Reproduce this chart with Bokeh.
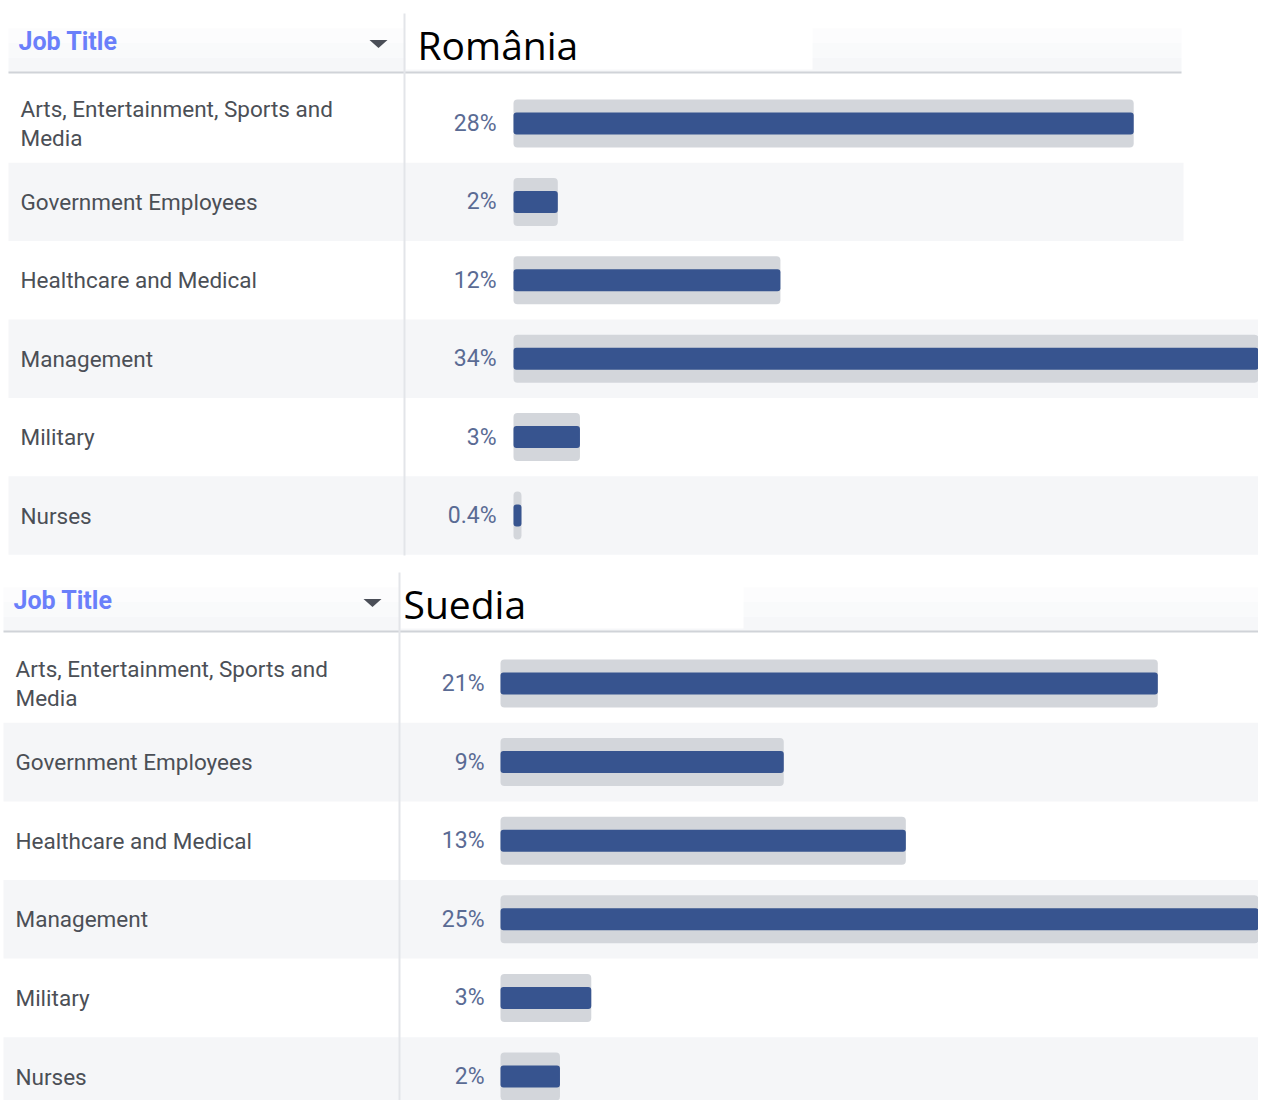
import textwrap
from bokeh.plotting import figure
from bokeh.models import Range1d
from bokeh.embed import file_html
from bokeh.resources import INLINE
from bokeh.core.properties import value

# ---------------- data ----------------
job_titles = ["Arts, Entertainment, Sports and Media", "Government Employees",
              "Healthcare and Medical", "Management", "Military", "Nurses"]
countries = ["România", "Suedia"]
header_label = "Job Title"
romania_values = [28.0, 2.0, 12.05, 34.0, 3.0, 0.36]
romania_labels = ["28%", "2%", "12%", "34%", "3%", "0.4%"]
suedia_values = [21.0, 9.05, 12.95, 25.0, 2.9, 1.9]
suedia_labels = ["21%", "9%", "13%", "25%", "3%", "2%"]

# ---------------- layout / style ----------------
W, H = 1258, 1100
FULL = 1266
BLUE = "#37548f"
TRACK = "#d3d6db"
SHADE = "#f5f6f8"
TEXT = "#4b4f56"
PCT = "#5a6b94"
HEAD_BLUE = "#6a7ffa"

panels = [
    dict(name="ro", title=countries[0], values=romania_values, labels=romania_labels,
         top=13, head_bot=72, left=8, head_right=1181, sep=404, bottom=555,
         text_x=20, pct_x=496, origin=513, ppp=22.15, c0=123, step=78.4,
         title_x=417, box=(405, 812), tri_x=378, shade_right=[FULL, 1183, FULL, FULL, FULL, FULL]),
    dict(name="se", title=countries[1], values=suedia_values, labels=suedia_labels,
         top=572, head_bot=631, left=3, head_right=FULL, sep=399, bottom=1108,
         text_x=15, pct_x=484, origin=500, ppp=31.3, c0=683, step=78.6,
         title_x=403, box=(400, 743), tri_x=372, shade_right=[FULL] * 6),
]

p = figure(width=W, height=H, x_range=Range1d(0, W), y_range=Range1d(H, 0),
           output_backend="svg", toolbar_location=None,
           x_axis_type=None, y_axis_type=None, min_border=0,
           outline_line_color=None, background_fill_color="white",
           border_fill_color="white")
p.grid.visible = False

for pn in panels:
    p.extra_x_ranges[pn["name"]] = Range1d(-pn["origin"] / pn["ppp"],
                                           (W - pn["origin"]) / pn["ppp"])

grad = ["#ffffff", "#fcfcfd", "#f9fafb", "#f6f7f9"]

for pn in panels:
    n = len(job_titles)
    centers = [pn["c0"] + i * pn["step"] for i in range(n)]
    half = pn["step"] / 2

    # header background (gradient approximation)
    t, b = pn["top"], pn["head_bot"]
    hstep = (b - t) / len(grad)
    p.quad(left=[pn["left"]] * len(grad), right=[pn["head_right"]] * len(grad),
           top=[t + k * hstep for k in range(len(grad))],
           bottom=[t + (k + 1) * hstep for k in range(len(grad))],
           fill_color=grad, line_color=None)
    p.quad(left=[pn["box"][0]], right=[pn["box"][1]], top=[t], bottom=[b - 3],
           fill_color="white", line_color=None)
    p.segment(x0=[pn["left"]], x1=[pn["head_right"]], y0=[b], y1=[b],
              line_color="#d0d3d8", line_width=2)

    # alternating row shading
    idx = [i for i in range(n) if i % 2 == 1]
    p.quad(left=[pn["left"]] * len(idx), right=[pn["shade_right"][i] for i in idx],
           top=[centers[i] - half for i in idx], bottom=[centers[i] + half for i in idx],
           fill_color=SHADE, line_color=None)

    # column separator
    p.segment(x0=[pn["sep"]], x1=[pn["sep"]], y0=[t], y1=[pn["bottom"]],
              line_color="#e3e5e9", line_width=2)

    # header texts
    hc = (t + b) / 2
    p.text(x=[pn["left"] + 10], y=[hc - 2], text=[header_label],
           text_font=value("Roboto"), text_font_style="bold", text_font_size="25px",
           text_color=HEAD_BLUE, text_baseline="middle", text_align="left")
    tx = pn["tri_x"]
    p.patch(x=[tx - 9, tx + 9, tx], y=[hc - 3, hc - 3, hc + 5],
            fill_color="#4a4e57", line_color=None)
    p.text(x=[pn["title_x"]], y=[hc + 1], text=[pn["title"]],
           text_font=value("Open Sans"), text_font_size="39px",
           text_color="#000000", text_baseline="middle", text_align="left")

    # row labels
    p.text(x=[pn["text_x"]] * n, y=centers,
           text=[textwrap.fill(s, 31) for s in job_titles],
           text_font=value("Roboto"), text_font_size="22.5px", text_color=TEXT,
           text_baseline="middle", text_align="left", text_line_height=1.14)

    # percentage labels
    p.text(x=[pn["pct_x"]] * n, y=centers, text=pn["labels"],
           text_font=value("Roboto"), text_font_size="23px", text_color=PCT,
           text_baseline="middle", text_align="right")

    # bars: track + value
    p.hbar(y=centers, left=0, right=pn["values"], height=48,
           x_range_name=pn["name"], fill_color=TRACK, line_color=None,
           border_radius=4)
    p.hbar(y=centers, left=0, right=pn["values"], height=22,
           x_range_name=pn["name"], fill_color=BLUE, line_color=None,
           border_radius=3)

open("out.html", "w").write(file_html(p, INLINE))
